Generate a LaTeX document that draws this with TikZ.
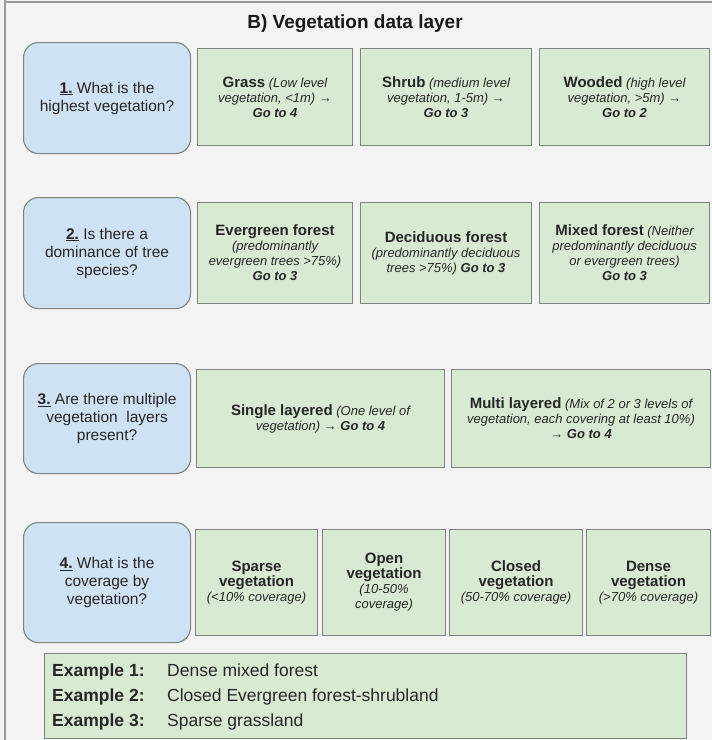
\documentclass[tikz,border=0pt]{standalone}
\usepackage{fontspec}
\setmainfont{Liberation Sans}
\definecolor{bg}{HTML}{F3F3F3}
\definecolor{qblue}{HTML}{CFE2F3}
\definecolor{agreen}{HTML}{D9EAD3}
\definecolor{bord}{HTML}{7E857E}
\definecolor{frame}{HTML}{9A9A9A}
\newcommand\vb[1]{{\fontsize{15}{17}\selectfont\bfseries #1}}
\newcommand\vi[1]{{\itshape #1}}
\newcommand\vg[1]{{\bfseries\itshape #1}}
\newcommand\qn[1]{\underline{\textbf{#1}}}
\tikzset{
  qbox/.style={draw=bord, line width=1.1pt, fill=qblue, rounded corners=15pt,
    anchor=north west, inner sep=0pt, align=center,
    font=\fontsize{15.5}{18}\selectfont, text=black!85},
  abox/.style={draw=bord, line width=1.1pt, fill=agreen,
    anchor=north west, inner sep=0pt, align=center,
    font=\fontsize{13}{15}\selectfont, text=black!85},
  extext/.style={anchor=base west, inner sep=0pt, font=\fontsize{17.5}{20}\selectfont, text=black!85}
}
\begin{document}
\begin{tikzpicture}[x=1pt,y=1pt]
\useasboundingbox (0,0) rectangle (712,-740);
\fill[bg] (0,0) rectangle (712,-740);
\draw[frame, line width=1.2pt] (5,2) -- (5,-742);
\draw[frame, line width=1.2pt] (5,-2) -- (714,-2);

\node[anchor=base, inner sep=0pt, font=\fontsize{19}{22}\selectfont\bfseries, text=black!90] (title) at (355,-28.5) {B) Vegetation data layer};

% Row 1
\node[qbox, minimum width=167, minimum height=111] (q1) at (23,-42)
  {\qn{1.} What is the\\highest vegetation?};
\node[abox, minimum width=155, minimum height=97] (a11) at (197,-48)
  {\vb{Grass} \vi{(Low level}\\\vi{vegetation, <1m) →}\\\vg{Go to 4}};
\node[abox, minimum width=171, minimum height=97] (a12) at (360,-48)
  {\vb{Shrub} \vi{(medium level}\\\vi{vegetation, 1-5m) →}\\\vg{Go to 3}};
\node[abox, minimum width=170, minimum height=97] (a13) at (539,-48)
  {\vb{Wooded} \vi{(high level}\\\vi{vegetation, >5m) →}\\\vg{Go to 2}};

% Row 2
\node[qbox, minimum width=167, minimum height=111] (q2) at (23,-197)
  {\qn{2.} Is there a\\dominance of tree\\species?};
\node[abox, minimum width=155, minimum height=101] (a21) at (197,-202)
  {\vb{Evergreen forest}\\\vi{(predominantly}\\\vi{evergreen trees >75\%)}\\\vg{Go to 3}};
\node[abox, minimum width=171, minimum height=101] (a22) at (360,-202)
  {\vb{Deciduous forest}\\\vi{(predominantly deciduous}\\\vi{trees >75\%)} \vg{Go to 3}};
\node[abox, minimum width=170, minimum height=101] (a23) at (539,-202)
  {\vb{Mixed forest} \vi{(Neither}\\\vi{predominantly deciduous}\\\vi{or evergreen trees)}\\\vg{Go to 3}};

% Row 3
\node[qbox, minimum width=167, minimum height=110] (q3) at (23,-363)
  {\qn{3.} Are there multiple\\vegetation\ \ layers\\present?};
\node[abox, minimum width=248, minimum height=98] (a31) at (196,-369)
  {\vb{Single layered} \vi{(One level of}\\\vi{vegetation) →} \vg{Go to 4}};
\node[abox, minimum width=259, minimum height=98] (a32) at (451,-369)
  {\vb{Multi layered} \vi{(Mix of 2 or 3 levels of}\\\vi{vegetation, each covering at least 10\%)}\\\vg{→ Go to 4}};

% Row 4
\node[qbox, minimum width=167, minimum height=120] (q4) at (23,-522)
  {\qn{4.} What is the\\coverage by\\vegetation?};
\node[abox, minimum width=122, minimum height=106] (a41) at (195,-529)
  {\vb{Sparse}\\\vb{vegetation}\\\vi{(<10\% coverage)}};
\node[abox, minimum width=123, minimum height=106] (a42) at (322,-529)
  {\vb{Open}\\\vb{vegetation}\\\vi{(10-50\%}\\\vi{coverage)}};
\node[abox, minimum width=133, minimum height=106] (a43) at (449,-529)
  {\vb{Closed}\\\vb{vegetation}\\\vi{(50-70\% coverage)}};
\node[abox, minimum width=124, minimum height=106] (a44) at (586,-529)
  {\vb{Dense}\\\vb{vegetation}\\\vi{(>70\% coverage)}};

% Examples
\node[abox, minimum width=642, minimum height=85] (ex) at (44,-653) {};
\node[extext, font=\fontsize{17.5}{20}\selectfont\bfseries] (e1l) at (52,-676) {Example 1:};
\node[extext] (e1t) at (167,-676) {Dense mixed forest};
\node[extext, font=\fontsize{17.5}{20}\selectfont\bfseries] (e2l) at (52,-701) {Example 2:};
\node[extext] (e2t) at (167,-701) {Closed Evergreen forest-shrubland};
\node[extext, font=\fontsize{17.5}{20}\selectfont\bfseries] (e3l) at (52,-726) {Example 3:};
\node[extext] (e3t) at (167,-726) {Sparse grassland};
\end{tikzpicture}
\end{document}
